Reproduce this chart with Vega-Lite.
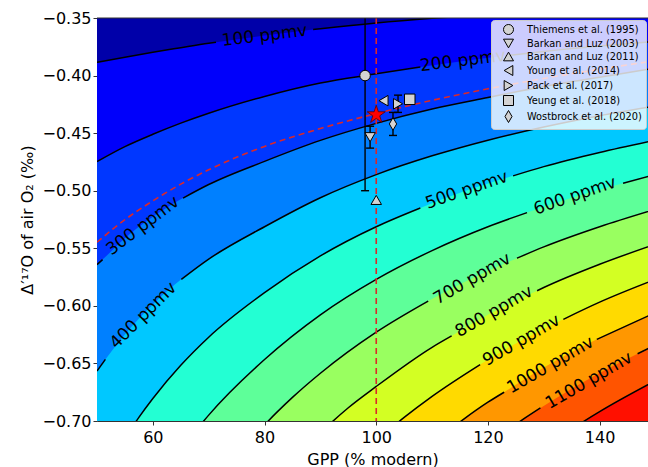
{
"$schema": "https://vega.github.io/schema/vega-lite/v6.json",
"width": 551, "height": 403,
"autosize": {"type": "none"},
"padding": {"left": 97, "top": 18, "right": 0, "bottom": 46},
"config": {
  "font": "DejaVu Sans",
  "view": {"fill": "#FF1000", "stroke": null},
  "axis": {"grid": false, "zindex": 1, "labelFontSize": 16, "titleFontSize": 16, "titleFontWeight": "normal", "labelColor": "black", "titleColor": "black", "tickColor": "#333333", "domainColor": "#333333", "tickSize": 4, "labelFont": "DejaVu Sans", "titleFont": "DejaVu Sans"}
},
"datasets": {
  "contours": [
    {"level":100,"gpp":50,"d17o":-0.3885,"part":"a"},{"level":100,"gpp":55,"d17o":-0.3840,"part":"a"},{"level":100,"gpp":60,"d17o":-0.3797,"part":"a"},{"level":100,"gpp":65,"d17o":-0.3758,"part":"a"},{"level":100,"gpp":70,"d17o":-0.3720,"part":"a"},{"level":100,"gpp":71.3,"d17o":-0.3711,"part":"a"},{"level":100,"gpp":80,"d17o":-0.3652,"part":"g"},{"level":100,"gpp":88.7,"d17o":-0.3600,"part":"b"},{"level":100,"gpp":90,"d17o":-0.3593,"part":"b"},{"level":100,"gpp":100,"d17o":-0.3543,"part":"b"},{"level":100,"gpp":110,"d17o":-0.3503,"part":"b"},{"level":100,"gpp":120,"d17o":-0.3470,"part":"b"},{"level":100,"gpp":130,"d17o":-0.3443,"part":"b"},{"level":100,"gpp":140,"d17o":-0.3420,"part":"b"},{"level":100,"gpp":150,"d17o":-0.3400,"part":"b"},
    {"level":200,"gpp":50,"d17o":-0.4747,"part":"a"},{"level":200,"gpp":55,"d17o":-0.4617,"part":"a"},{"level":200,"gpp":60,"d17o":-0.4510,"part":"a"},{"level":200,"gpp":65,"d17o":-0.4413,"part":"a"},{"level":200,"gpp":70,"d17o":-0.4327,"part":"a"},{"level":200,"gpp":80,"d17o":-0.4181,"part":"a"},{"level":200,"gpp":90,"d17o":-0.4064,"part":"a"},{"level":200,"gpp":100,"d17o":-0.3985,"part":"a"},{"level":200,"gpp":107.9,"d17o":-0.3925,"part":"a"},{"level":200,"gpp":115,"d17o":-0.3877,"part":"g"},{"level":200,"gpp":123.1,"d17o":-0.3828,"part":"b"},{"level":200,"gpp":130,"d17o":-0.3790,"part":"b"},{"level":200,"gpp":140,"d17o":-0.3743,"part":"b"},{"level":200,"gpp":150,"d17o":-0.3703,"part":"b"},
    {"level":280,"gpp":50,"d17o":-0.5447,"part":"a"},{"level":280,"gpp":55,"d17o":-0.5252,"part":"a"},{"level":280,"gpp":60,"d17o":-0.5088,"part":"a"},{"level":280,"gpp":65,"d17o":-0.4943,"part":"a"},{"level":280,"gpp":70,"d17o":-0.4818,"part":"a"},{"level":280,"gpp":80,"d17o":-0.4615,"part":"a"},{"level":280,"gpp":90,"d17o":-0.4460,"part":"a"},{"level":280,"gpp":100,"d17o":-0.4330,"part":"a"},{"level":280,"gpp":110,"d17o":-0.4215,"part":"a"},{"level":280,"gpp":120,"d17o":-0.4115,"part":"a"},{"level":280,"gpp":130,"d17o":-0.4025,"part":"a"},{"level":280,"gpp":140,"d17o":-0.3945,"part":"a"},{"level":280,"gpp":150,"d17o":-0.3870,"part":"a"},
    {"level":300,"gpp":50,"d17o":-0.5642,"part":"a"},{"level":300,"gpp":51,"d17o":-0.5598,"part":"a"},{"level":300,"gpp":55,"d17o":-0.5413,"part":"g"},{"level":300,"gpp":60,"d17o":-0.5227,"part":"g"},{"level":300,"gpp":65.4,"d17o":-0.5064,"part":"b"},{"level":300,"gpp":70,"d17o":-0.4946,"part":"b"},{"level":300,"gpp":80,"d17o":-0.4745,"part":"b"},{"level":300,"gpp":90,"d17o":-0.4563,"part":"b"},{"level":300,"gpp":100,"d17o":-0.4415,"part":"b"},{"level":300,"gpp":110,"d17o":-0.4291,"part":"b"},{"level":300,"gpp":120,"d17o":-0.4191,"part":"b"},{"level":300,"gpp":130,"d17o":-0.4095,"part":"b"},{"level":300,"gpp":140,"d17o":-0.4015,"part":"b"},{"level":300,"gpp":150,"d17o":-0.3935,"part":"b"},
    {"level":400,"gpp":50,"d17o":-0.6566,"part":"a"},{"level":400,"gpp":51.5,"d17o":-0.6465,"part":"a"},{"level":400,"gpp":55,"d17o":-0.6248,"part":"g"},{"level":400,"gpp":60,"d17o":-0.5988,"part":"g"},{"level":400,"gpp":65.1,"d17o":-0.5770,"part":"b"},{"level":400,"gpp":70,"d17o":-0.5594,"part":"b"},{"level":400,"gpp":80,"d17o":-0.5313,"part":"b"},{"level":400,"gpp":90,"d17o":-0.5061,"part":"b"},{"level":400,"gpp":100,"d17o":-0.4860,"part":"b"},{"level":400,"gpp":110,"d17o":-0.4697,"part":"b"},{"level":400,"gpp":120,"d17o":-0.4561,"part":"b"},{"level":400,"gpp":130,"d17o":-0.4447,"part":"b"},{"level":400,"gpp":140,"d17o":-0.4349,"part":"b"},{"level":400,"gpp":150,"d17o":-0.4265,"part":"b"},
    {"level":500,"gpp":50,"d17o":-0.752,"part":"a"},{"level":500,"gpp":55,"d17o":-0.7149,"part":"a"},{"level":500,"gpp":57.5,"d17o":-0.6968,"part":"a"},{"level":500,"gpp":60,"d17o":-0.6804,"part":"a"},{"level":500,"gpp":65,"d17o":-0.6516,"part":"a"},{"level":500,"gpp":70,"d17o":-0.6272,"part":"a"},{"level":500,"gpp":80,"d17o":-0.5885,"part":"a"},{"level":500,"gpp":90,"d17o":-0.5566,"part":"a"},{"level":500,"gpp":100,"d17o":-0.5313,"part":"a"},{"level":500,"gpp":107.9,"d17o":-0.5150,"part":"a"},{"level":500,"gpp":115,"d17o":-0.5018,"part":"g"},{"level":500,"gpp":124.5,"d17o":-0.4871,"part":"b"},{"level":500,"gpp":130,"d17o":-0.4791,"part":"b"},{"level":500,"gpp":140,"d17o":-0.4668,"part":"b"},{"level":500,"gpp":150,"d17o":-0.4561,"part":"b"},
    {"level":600,"gpp":50,"d17o":-0.860,"part":"a"},{"level":600,"gpp":60,"d17o":-0.761,"part":"a"},{"level":600,"gpp":65,"d17o":-0.7252,"part":"a"},{"level":600,"gpp":70,"d17o":-0.6949,"part":"a"},{"level":600,"gpp":80,"d17o":-0.6466,"part":"a"},{"level":600,"gpp":90,"d17o":-0.6078,"part":"a"},{"level":600,"gpp":100,"d17o":-0.5770,"part":"a"},{"level":600,"gpp":110,"d17o":-0.5520,"part":"a"},{"level":600,"gpp":120,"d17o":-0.5313,"part":"a"},{"level":600,"gpp":127,"d17o":-0.5190,"part":"a"},{"level":600,"gpp":135,"d17o":-0.5062,"part":"g"},{"level":600,"gpp":144.2,"d17o":-0.4935,"part":"b"},{"level":600,"gpp":150,"d17o":-0.4860,"part":"b"},
    {"level":700,"gpp":50,"d17o":-0.960,"part":"a"},{"level":700,"gpp":60,"d17o":-0.846,"part":"a"},{"level":700,"gpp":70,"d17o":-0.765,"part":"a"},{"level":700,"gpp":75,"d17o":-0.7331,"part":"a"},{"level":700,"gpp":80,"d17o":-0.7035,"part":"a"},{"level":700,"gpp":85,"d17o":-0.6795,"part":"a"},{"level":700,"gpp":90,"d17o":-0.6585,"part":"a"},{"level":700,"gpp":100,"d17o":-0.6228,"part":"a"},{"level":700,"gpp":109.3,"d17o":-0.5958,"part":"a"},{"level":700,"gpp":117,"d17o":-0.5765,"part":"g"},{"level":700,"gpp":125.2,"d17o":-0.5586,"part":"b"},{"level":700,"gpp":130,"d17o":-0.5488,"part":"b"},{"level":700,"gpp":140,"d17o":-0.5313,"part":"b"},{"level":700,"gpp":150,"d17o":-0.5161,"part":"b"},
    {"level":800,"gpp":50,"d17o":-1.06,"part":"a"},{"level":800,"gpp":70,"d17o":-0.834,"part":"a"},{"level":800,"gpp":80,"d17o":-0.765,"part":"a"},{"level":800,"gpp":85,"d17o":-0.7369,"part":"a"},{"level":800,"gpp":90,"d17o":-0.7105,"part":"a"},{"level":800,"gpp":95,"d17o":-0.6885,"part":"a"},{"level":800,"gpp":100,"d17o":-0.6700,"part":"a"},{"level":800,"gpp":110,"d17o":-0.6360,"part":"a"},{"level":800,"gpp":113.5,"d17o":-0.6261,"part":"a"},{"level":800,"gpp":120,"d17o":-0.6078,"part":"g"},{"level":800,"gpp":128.8,"d17o":-0.5869,"part":"b"},{"level":800,"gpp":130,"d17o":-0.5841,"part":"b"},{"level":800,"gpp":140,"d17o":-0.5639,"part":"b"},{"level":800,"gpp":150,"d17o":-0.5464,"part":"b"},
    {"level":900,"gpp":50,"d17o":-1.165,"part":"a"},{"level":900,"gpp":80,"d17o":-0.825,"part":"a"},{"level":900,"gpp":90,"d17o":-0.765,"part":"a"},{"level":900,"gpp":95,"d17o":-0.7398,"part":"a"},{"level":900,"gpp":100,"d17o":-0.7172,"part":"a"},{"level":900,"gpp":105,"d17o":-0.6969,"part":"a"},{"level":900,"gpp":110,"d17o":-0.6786,"part":"a"},{"level":900,"gpp":118.6,"d17o":-0.6510,"part":"a"},{"level":900,"gpp":125,"d17o":-0.6326,"part":"g"},{"level":900,"gpp":133.5,"d17o":-0.6117,"part":"b"},{"level":900,"gpp":140,"d17o":-0.5968,"part":"b"},{"level":900,"gpp":150,"d17o":-0.5770,"part":"b"},
    {"level":1000,"gpp":50,"d17o":-1.30,"part":"a"},{"level":1000,"gpp":90,"d17o":-0.817,"part":"a"},{"level":1000,"gpp":100,"d17o":-0.763,"part":"a"},{"level":1000,"gpp":110,"d17o":-0.7196,"part":"a"},{"level":1000,"gpp":115,"d17o":-0.7008,"part":"a"},{"level":1000,"gpp":120,"d17o":-0.6837,"part":"a"},{"level":1000,"gpp":122.9,"d17o":-0.6750,"part":"a"},{"level":1000,"gpp":130,"d17o":-0.6536,"part":"g"},{"level":1000,"gpp":139.5,"d17o":-0.6291,"part":"b"},{"level":1000,"gpp":150,"d17o":-0.6058,"part":"b"},
    {"level":1100,"gpp":50,"d17o":-1.38,"part":"a"},{"level":1100,"gpp":100,"d17o":-0.808,"part":"a"},{"level":1100,"gpp":110,"d17o":-0.760,"part":"a"},{"level":1100,"gpp":120,"d17o":-0.7202,"part":"a"},{"level":1100,"gpp":125,"d17o":-0.7028,"part":"a"},{"level":1100,"gpp":129.4,"d17o":-0.6887,"part":"a"},{"level":1100,"gpp":135,"d17o":-0.6720,"part":"g"},{"level":1100,"gpp":140,"d17o":-0.6583,"part":"g"},{"level":1100,"gpp":146.8,"d17o":-0.6416,"part":"b"},{"level":1100,"gpp":150,"d17o":-0.6338,"part":"b"},
    {"level":1200,"gpp":50,"d17o":-1.48,"part":"a"},{"level":1200,"gpp":100,"d17o":-0.857,"part":"a"},{"level":1200,"gpp":110,"d17o":-0.804,"part":"a"},{"level":1200,"gpp":120,"d17o":-0.760,"part":"a"},{"level":1200,"gpp":130,"d17o":-0.7232,"part":"a"},{"level":1200,"gpp":135,"d17o":-0.7070,"part":"a"},{"level":1200,"gpp":140,"d17o":-0.6919,"part":"a"},{"level":1200,"gpp":150,"d17o":-0.6650,"part":"a"}
  ],
  "labels": [
    {"level":100,"label":"100 ppmv","gpp":80.0,"d17o":-0.3655},
    {"level":200,"label":"200 ppmv","gpp":115.5,"d17o":-0.3873},
    {"level":300,"label":"300 ppmv","gpp":58.2,"d17o":-0.5305},
    {"level":400,"label":"400 ppmv","gpp":58.3,"d17o":-0.6085},
    {"level":500,"label":"500 ppmv","gpp":116.2,"d17o":-0.4995},
    {"level":600,"label":"600 ppmv","gpp":135.6,"d17o":-0.5045},
    {"level":700,"label":"700 ppmv","gpp":117.2,"d17o":-0.5765},
    {"level":800,"label":"800 ppmv","gpp":121.1,"d17o":-0.6050},
    {"level":900,"label":"900 ppmv","gpp":126.0,"d17o":-0.6300},
    {"level":1000,"label":"1000 ppmv","gpp":131.2,"d17o":-0.6515},
    {"level":1100,"label":"1100 ppmv","gpp":138.1,"d17o":-0.6650}
  ],
  "obs": [
    {"study":"Thiemens et al. (1995)","gpp":98.0,"d17o":-0.400,"lo":-0.50,"hi":-0.30},
    {"study":"Barkan and Luz (2003)","gpp":98.9,"d17o":-0.4535,"lo":-0.463,"hi":-0.444},
    {"study":"Barkan and Luz (2011)","gpp":100.0,"d17o":-0.508,"lo":null,"hi":null},
    {"study":"Young et al. (2014)","gpp":101.3,"d17o":-0.4218,"lo":null,"hi":null},
    {"study":"Pack et al. (2017)","gpp":103.9,"d17o":-0.4245,"lo":-0.432,"hi":-0.417},
    {"study":"Yeung et al. (2018)","gpp":106.0,"d17o":-0.4206,"lo":null,"hi":null},
    {"study":"Wostbrock et al. (2020)","gpp":103.0,"d17o":-0.442,"lo":-0.452,"hi":-0.432}
  ],
  "star": [{"label":"modern","gpp":100,"d17o":-0.434}],
  "refs": [{"gpp":100,"d17o":-0.35}]
},
"layer": [
  {
    "data": {"name": "contours"},
    "encoding": {
      "x": {"field":"gpp","type":"quantitative","title":"GPP (% modern)","scale":{"domain":[50,148.66],"nice":false,"zero":false},"axis":{"values":[60,80,100,120,140],"format":"d","labelPadding":4,"titlePadding":6}},
      "y": {"field":"d17o","type":"quantitative","title":"Δ′¹⁷O of air O₂ (‰)","scale":{"domain":[-0.70,-0.35],"nice":false,"zero":false},"axis":{"values":[-0.70,-0.65,-0.60,-0.55,-0.50,-0.45,-0.40,-0.35],"format":".2f","labelPadding":2,"titlePadding":6}},
      "y2": {"datum": -0.35}
    },
    "layer": [
      {"transform":[{"filter":"datum.level === 1200"}],"mark":{"type":"area","clip":true,"interpolate":"monotone","color":"#FF5400"}},
      {"transform":[{"filter":"datum.level === 1100"}],"mark":{"type":"area","clip":true,"interpolate":"monotone","color":"#FF9700"}},
      {"transform":[{"filter":"datum.level === 1000"}],"mark":{"type":"area","clip":true,"interpolate":"monotone","color":"#FFDA00"}},
      {"transform":[{"filter":"datum.level === 900"}],"mark":{"type":"area","clip":true,"interpolate":"monotone","color":"#D3FF23"}},
      {"transform":[{"filter":"datum.level === 800"}],"mark":{"type":"area","clip":true,"interpolate":"monotone","color":"#99FF60"}},
      {"transform":[{"filter":"datum.level === 700"}],"mark":{"type":"area","clip":true,"interpolate":"monotone","color":"#5EFF99"}},
      {"transform":[{"filter":"datum.level === 600"}],"mark":{"type":"area","clip":true,"interpolate":"monotone","color":"#23FFD3"}},
      {"transform":[{"filter":"datum.level === 500"}],"mark":{"type":"area","clip":true,"interpolate":"monotone","color":"#00C8FF"}},
      {"transform":[{"filter":"datum.level === 400"}],"mark":{"type":"area","clip":true,"interpolate":"monotone","color":"#0080FF"}},
      {"transform":[{"filter":"datum.level === 300"}],"mark":{"type":"area","clip":true,"interpolate":"monotone","color":"#0037FF"}},
      {"transform":[{"filter":"datum.level === 200"}],"mark":{"type":"area","clip":true,"interpolate":"monotone","color":"#0000FB"}},
      {"transform":[{"filter":"datum.level === 100"}],"mark":{"type":"area","clip":true,"interpolate":"monotone","color":"#0000A9"}}
    ]
  },
  {
    "data": {"name": "contours"},
    "transform": [{"filter": "datum.level !== 280 && datum.part !== 'g'"}],
    "mark": {"type":"line","clip":true,"interpolate":"monotone","color":"black","strokeWidth":1.5},
    "encoding": {
      "x": {"field":"gpp","type":"quantitative","title":"GPP (% modern)"},
      "y": {"field":"d17o","type":"quantitative","title":"Δ′¹⁷O of air O₂ (‰)"},
      "detail": [{"field":"level","type":"nominal"},{"field":"part","type":"nominal"}]
    }
  },
  {
    "data": {"name": "contours"},
    "transform": [{"filter": "datum.level === 280"}],
    "mark": {"type":"line","clip":true,"interpolate":"monotone","color":"#DC2828","strokeWidth":1.6,"strokeDash":[6,4]},
    "encoding": {
      "x": {"field":"gpp","type":"quantitative","title":"GPP (% modern)"},
      "y": {"field":"d17o","type":"quantitative","title":"Δ′¹⁷O of air O₂ (‰)"}
    }
  },
  {
    "data": {"name": "refs"},
    "mark": {"type":"rule","color":"#DC2828","strokeWidth":1.6,"strokeDash":[6,4]},
    "encoding": {"x": {"field":"gpp","type":"quantitative","title":"GPP (% modern)"}}
  },
  {
    "data": {"name": "labels"},
    "encoding": {
      "x": {"field":"gpp","type":"quantitative","title":"GPP (% modern)"},
      "y": {"field":"d17o","type":"quantitative","title":"Δ′¹⁷O of air O₂ (‰)"},
      "text": {"field":"label","type":"nominal"}
    },
    "layer": [
      {"transform":[{"filter":"datum.level === 100 || datum.level === 200"}],"mark":{"type":"text","angle":-7,"fontSize":17,"font":"DejaVu Sans","color":"black","align":"center","baseline":"middle"}},
      {"transform":[{"filter":"datum.level === 300"}],"mark":{"type":"text","angle":-37,"fontSize":17,"font":"DejaVu Sans","color":"black","align":"center","baseline":"middle"}},
      {"transform":[{"filter":"datum.level === 400"}],"mark":{"type":"text","angle":-45,"fontSize":17,"font":"DejaVu Sans","color":"black","align":"center","baseline":"middle"}},
      {"transform":[{"filter":"datum.level === 500 || datum.level === 600"}],"mark":{"type":"text","angle":-19,"fontSize":17,"font":"DejaVu Sans","color":"black","align":"center","baseline":"middle"}},
      {"transform":[{"filter":"datum.level >= 700"}],"mark":{"type":"text","angle":-30,"fontSize":17,"font":"DejaVu Sans","color":"black","align":"center","baseline":"middle"}}
    ]
  },
  {
    "data": {"name": "obs"},
    "transform": [{"filter": "isValid(datum.lo)"}],
    "layer": [
      {"mark": {"type":"rule","clip":true,"color":"black","strokeWidth":1.4},
       "encoding": {"x": {"field":"gpp","type":"quantitative","title":"GPP (% modern)"},"y": {"field":"lo","type":"quantitative","title":"Δ′¹⁷O of air O₂ (‰)"},"y2": {"field":"hi"}}},
      {"mark": {"type":"tick","clip":true,"orient":"horizontal","color":"black","size":8,"thickness":1.4,"opacity":1},
       "encoding": {"x": {"field":"gpp","type":"quantitative","title":"GPP (% modern)"},"y": {"field":"lo","type":"quantitative","title":"Δ′¹⁷O of air O₂ (‰)"}}},
      {"mark": {"type":"tick","clip":true,"orient":"horizontal","color":"black","size":8,"thickness":1.4,"opacity":1},
       "encoding": {"x": {"field":"gpp","type":"quantitative","title":"GPP (% modern)"},"y": {"field":"hi","type":"quantitative","title":"Δ′¹⁷O of air O₂ (‰)"}}}
    ]
  },
  {
    "data": {"name": "obs"},
    "mark": {"type":"point","filled":true,"strokeWidth":1,"size":110,"opacity":1},
    "encoding": {
      "x": {"field":"gpp","type":"quantitative","title":"GPP (% modern)"},
      "y": {"field":"d17o","type":"quantitative","title":"Δ′¹⁷O of air O₂ (‰)"},
      "shape": {"field":"study","type":"nominal","title":null,
        "scale": {"domain":["Thiemens et al. (1995)","Barkan and Luz (2003)","Barkan and Luz (2011)","Young et al. (2014)","Pack et al. (2017)","Yeung et al. (2018)","Wostbrock et al. (2020)"],
                  "range":["circle","triangle-down","triangle-up","triangle-left","triangle-right","square","M0,-1.2L0.7,0L0,1.2L-0.7,0Z"]},
        "legend": {"title": null, "orient": "top-right", "offset": 2, "fillColor": "rgba(255,255,255,0.8)", "strokeColor": "#CCCCCC", "cornerRadius": 3, "padding": 4, "labelFontSize": 9.8, "labelFont": "DejaVu Sans", "labelColor": "black", "symbolSize": 100, "symbolStrokeWidth": 1, "symbolOpacity": 1, "rowPadding": 0, "labelOffset": 13, "symbolOffset": 8}
      },
      "fill": {"field":"study","type":"nominal","title":null,
        "scale": {"domain":["Thiemens et al. (1995)","Barkan and Luz (2003)","Barkan and Luz (2011)","Young et al. (2014)","Pack et al. (2017)","Yeung et al. (2018)","Wostbrock et al. (2020)"],
                  "range":["#D3D3D3","#D3D3D3","#D3D3D3","#D3D3D3","#D3D3D3","#D3D3D3","#D3D3D3"]}},
      "stroke": {"field":"study","type":"nominal","title":null,
        "scale": {"domain":["Thiemens et al. (1995)","Barkan and Luz (2003)","Barkan and Luz (2011)","Young et al. (2014)","Pack et al. (2017)","Yeung et al. (2018)","Wostbrock et al. (2020)"],
                  "range":["black","black","black","black","black","black","black"]}}
    }
  },
  {
    "data": {"name": "star"},
    "mark": {"type":"point","shape":"M0,-1L0.2245,-0.309L0.951,-0.309L0.3633,0.118L0.588,0.809L0,0.382L-0.588,0.809L-0.3633,0.118L-0.951,-0.309L-0.2245,-0.309Z","filled":true,"color":"#FF0000","stroke":"#5A0000","strokeWidth":0.8,"size":360,"opacity":1},
    "encoding": {
      "x": {"field":"gpp","type":"quantitative","title":"GPP (% modern)"},
      "y": {"field":"d17o","type":"quantitative","title":"Δ′¹⁷O of air O₂ (‰)"}
    }
  },
  {
    "data": {"name": "refs"},
    "mark": {"type":"rule","color":"#333333","strokeWidth":1},
    "encoding": {"y": {"field":"d17o","type":"quantitative","title":"Δ′¹⁷O of air O₂ (‰)"}}
  }
]
}
